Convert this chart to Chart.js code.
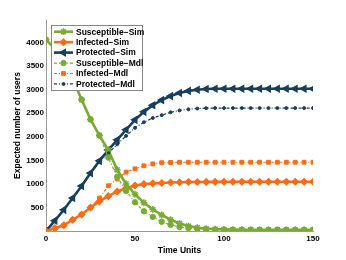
<!DOCTYPE html>
<html>
<head>
<meta charset="utf-8">
<script src="https://cdn.jsdelivr.net/npm/chart.js@4/dist/chart.umd.min.js"></script>
<style>
  body { margin: 0; background: #fff; }
  canvas { display: block; }
</style>
</head>
<body>
<canvas id="myChart" width="346" height="260"></canvas>
<script>
// time steps 0..150 every 5 units
var timeUnits = [0, 5, 10, 15, 20, 25, 30, 35, 40, 45, 50, 55, 60, 65, 70, 75,
    80, 85, 90, 95, 100, 105, 110, 115, 120, 125, 130, 135, 140, 145, 150];

var susceptibleSim = [4060, 3870, 3580, 3220, 2790, 2370, 2030, 1720, 1300, 1000, 780, 600, 460, 340, 240, 160,
    105, 70, 50, 40, 35, 30, 28, 27, 26, 25, 25, 25, 25, 25, 25];
var infectedSim = [0, 60, 120, 240, 350, 500, 630, 740, 840, 910, 965, 995, 1010, 1020, 1030, 1035,
    1040, 1040, 1042, 1043, 1045, 1045, 1045, 1045, 1045, 1045, 1045, 1045, 1045, 1045, 1045];
var protectedSim = [0, 220, 450, 700, 955, 1230, 1490, 1720, 1935, 2150, 2360, 2530, 2670, 2780, 2865, 2930,
    2975, 3000, 3015, 3020, 3020, 3020, 3020, 3020, 3020, 3020, 3020, 3020, 3020, 3020, 3020];

var susceptibleMdl = [4060, 3870, 3580, 3220, 2790, 2370, 2030, 1560, 1150, 850, 610, 420, 300, 195, 130, 85,
    60, 45, 35, 30, 28, 27, 26, 25, 25, 25, 25, 25, 25, 25, 25];
var infectedMdl = [0, 60, 120, 240, 350, 500, 700, 960, 1105, 1250, 1320, 1385, 1425, 1450, 1455, 1460,
    1460, 1460, 1460, 1460, 1460, 1460, 1460, 1460, 1460, 1460, 1460, 1460, 1460, 1460, 1460];
var protectedMdl = [0, 220, 450, 700, 950, 1220, 1460, 1650, 1840, 2020, 2190, 2310, 2400, 2460, 2520, 2560,
    2585, 2600, 2608, 2610, 2610, 2610, 2610, 2610, 2610, 2610, 2610, 2610, 2610, 2610, 2610];

var xTicks = [0, 50, 100, 150];
var yTicks = [500, 1000, 1500, 2000, 2500, 3000, 3500, 4000];

var GREEN = '#77ac30';
var ORANGE = '#ff6a13';
var BLUE = '#17405f';
var FONT = "'Liberation Sans', Arial, sans-serif";

function pts(values) {
    return values.map(function (v, i) { return {x: timeUnits[i], y: v}; });
}

function simSet(label, values, color, style, radius, rotation) {
    return {
        label: label, data: pts(values), order: 1,
        borderColor: color, backgroundColor: color, borderWidth: 2.6,
        pointStyle: style, pointRadius: radius, pointRotation: rotation || 0,
        pointBorderColor: color, pointBackgroundColor: color, pointBorderWidth: 1.5,
        tension: 0
    };
}

function mdlSet(label, values, color, style, radius) {
    return {
        label: label, data: pts(values), order: 0,
        borderColor: color, backgroundColor: color, borderWidth: 1.2,
        borderDash: [3, 2, 1, 2],
        pointStyle: style, pointRadius: radius,
        pointBorderColor: color, pointBackgroundColor: color, pointBorderWidth: 1,
        tension: 0
    };
}

var datasets = [
    simSet('Susceptible\u2212Sim', susceptibleSim, GREEN, 'star', 3.4),
    simSet('Infected\u2212Sim', infectedSim, ORANGE, 'rectRot', 3),
    simSet('Protected\u2212Sim', protectedSim, BLUE, 'triangle', 3.5, -90),
    mdlSet('Susceptible\u2212Mdl', susceptibleMdl, GREEN, 'circle', 2.7),
    mdlSet('Infected\u2212Mdl', infectedMdl, ORANGE, 'rect', 2.7),
    mdlSet('Protected\u2212Mdl', protectedMdl, BLUE, 'circle', 1.5)
];

// legend drawn inside the plot, matlab style
var boxLegend = {
    id: 'boxLegend',
    afterDraw: function (chart) {
        var c = chart.ctx;
        var x0 = 51, y0 = 25, w = 92, h = 66;
        c.save();
        c.fillStyle = '#fff';
        c.fillRect(x0, y0, w, h);
        c.strokeStyle = '#888';
        c.lineWidth = 1;
        c.strokeRect(x0 + 0.5, y0 + 0.5, w - 1, h - 1);
        chart.data.datasets.forEach(function (ds, i) {
            var y = 31.7 + i * 10.45;
            c.strokeStyle = ds.borderColor;
            c.lineWidth = ds.borderWidth;
            c.setLineDash(ds.borderDash || []);
            c.beginPath();
            c.moveTo(54, y);
            c.lineTo(73, y);
            c.stroke();
            c.setLineDash([]);
            c.fillStyle = ds.pointBackgroundColor;
            c.strokeStyle = ds.pointBorderColor;
            c.lineWidth = ds.pointBorderWidth;
            Chart.helpers.drawPoint(c, {
                pointStyle: ds.pointStyle, radius: ds.pointRadius,
                rotation: ds.pointRotation || 0, borderWidth: ds.pointBorderWidth
            }, 63.5, y);
            c.fillStyle = '#000';
            c.font = 'bold 8.5px ' + FONT;
            c.textBaseline = 'middle';
            c.textAlign = 'left';
            c.fillText(ds.label, 76, y + 0.5);
        });
        c.restore();
    }
};

var ctx = document.getElementById('myChart');
var myChart = new Chart(ctx, {
    type: 'line',
    data: {datasets: datasets},
    options: {
        responsive: false,
        animation: false,
        layout: {padding: {top: 20, right: 33, left: 0, bottom: 0}},
        plugins: {legend: {display: false}, tooltip: {enabled: false}},
        scales: {
            x: {
                type: 'linear', min: 0, max: 150,
                grid: {display: false, drawTicks: false},
                border: {display: true, color: '#999', width: 1},
                afterBuildTicks: function (s) { s.ticks = xTicks.map(function (v) { return {value: v}; }); },
                afterFit: function (s) { s.height = 29; },
                ticks: {padding: 3, maxRotation: 0, color: '#000', font: {family: FONT, size: 8, weight: 'bold'},
                    callback: function (v) { return String(v); }},
                title: {display: true, text: 'Time Units', color: '#000', padding: {top: 0, bottom: 4},
                    font: {family: FONT, size: 8.5, weight: 'bold'}}
            },
            y: {
                type: 'linear', min: 0, max: 4480,
                grid: {display: false, drawTicks: false},
                border: {display: true, color: '#999', width: 1},
                afterBuildTicks: function (s) { s.ticks = yTicks.map(function (v) { return {value: v}; }); },
                afterFit: function (s) { s.width = 46; },
                ticks: {padding: 2, color: '#000', font: {family: FONT, size: 8, weight: 'bold'},
                    callback: function (v) { return String(v); }},
                title: {display: true, text: 'Expected number of users', color: '#000', padding: {top: 13, bottom: 0},
                    font: {family: FONT, size: 8.5, weight: 'bold'}}
            }
        }
    },
    plugins: [boxLegend]
});
</script>
</body>
</html>
